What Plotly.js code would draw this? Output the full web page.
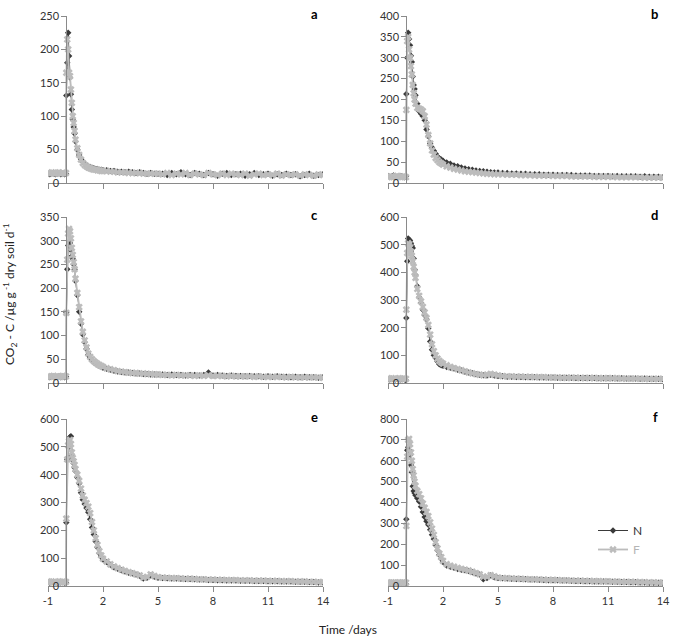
<!DOCTYPE html>
<html>
<head>
<meta charset="utf-8">
<script src="https://cdn.plot.ly/plotly-3.0.1.min.js"></script>
<style>html,body{margin:0;padding:0;background:#fff;}#chart{width:685px;height:642px;}</style>
</head>
<body>
<div id="chart"></div>
<script>
// Time (days) shared by all panels
const days = [-1,-0.9,-0.8,-0.7,-0.6,-0.5,-0.4,-0.3,-0.2,-0.1,-0.02,
  0,0.05,0.1,0.15,0.2,0.25,0.3,0.35,0.4,0.45,0.5,0.6,0.7,0.8,0.9,1,1.1,1.2,1.3,1.4,1.5,1.6,1.7,1.8,1.9,2,
  2.2,2.4,2.6,2.8,3,3.2,3.4,3.6,3.8,4,4.2,4.4,4.6,4.8,5,
  5.25,5.5,5.75,6,6.25,6.5,6.75,7,7.25,7.5,7.75,8,8.25,8.5,8.75,9,9.25,9.5,9.75,10,10.25,10.5,10.75,11,11.25,11.5,11.75,12,12.25,12.5,12.75,13,13.25,13.5,13.75,14];

const aN = [14,13,15,14,13,14,15,13,14,13,14,
  131,180,225,190,158,133,110,95,84,74,62,50,42,36,32,29,27,25,24,23,22,21,21,20,20,19,
  19,18,18,17,17,16,17,16,15,16,15,14,15,14,14,
  14,12,15,13,16,13,12,15,14,12,15,13,11,14,15,12,13,14,11,13,15,12,13,14,11,13,12,14,12,13,10,12,14,11,12,13];
const aF = [15,14,16,15,14,15,16,14,15,14,15,
  165,215,200,165,160,140,120,100,90,78,65,52,42,35,30,27,25,23,22,21,20,20,19,19,18,18,
  18,17,17,16,16,16,15,15,15,15,14,14,14,14,14,
  13,15,12,14,13,15,12,14,13,12,15,13,12,14,12,14,13,12,14,11,13,14,12,13,12,14,11,13,12,13,11,13,12,11,13,12];

const bN = [17,15,16,18,15,14,16,17,15,14,16,
  213,300,360,345,330,305,290,255,235,225,210,190,172,166,160,150,128,112,95,85,77,70,63,59,56,53,
  49,46,42,40,37,35,33,32,30,29,28,27,26,25,25,
  24,24,23,23,22,22,21,21,21,20,20,20,19,19,19,19,18,18,18,18,17,17,17,17,16,17,16,16,16,16,15,16,15,15,15,14];
const bF = [14,16,15,14,15,17,15,14,15,16,14,
  175,340,350,320,300,280,260,235,215,200,190,180,178,176,172,160,140,115,95,78,68,60,55,50,47,44,
  40,37,34,32,30,28,27,26,25,24,23,22,22,21,21,
  21,20,20,20,19,19,19,18,18,18,18,17,17,17,17,16,16,16,16,16,15,15,15,15,15,14,14,14,14,14,14,13,13,13,13,13];

const cN = [13,12,14,13,12,13,14,12,13,12,13,
  148,240,290,298,295,280,268,262,250,240,215,185,150,125,102,86,72,60,53,48,44,41,38,36,34,32,
  30,28,26,24,23,22,22,21,20,20,19,19,18,18,18,
  18,17,18,17,17,16,17,17,16,17,22,16,17,16,15,16,15,15,14,15,14,14,13,14,13,14,13,13,12,13,12,13,12,12,11,12];
const cF = [14,13,14,15,13,14,13,14,15,13,14,
  148,260,315,325,320,305,285,270,255,240,220,190,160,130,108,90,75,62,55,50,46,43,40,38,36,34,
  31,29,27,25,24,23,22,21,21,20,20,19,19,18,18,
  17,17,16,17,16,16,16,15,16,15,16,15,15,15,14,15,14,14,14,14,13,14,13,13,13,13,13,12,13,12,12,12,12,12,12,11];

const dN = [14,13,15,14,13,15,14,13,14,13,10,
  235,440,522,518,515,505,495,488,450,410,390,350,310,290,265,245,230,198,150,120,100,90,78,68,64,62,
  58,55,52,48,45,41,38,35,32,30,28,27,30,27,25,
  24,23,23,22,22,21,21,21,20,20,20,20,19,19,19,19,18,18,18,18,18,17,17,17,17,16,17,16,16,16,15,16,15,15,15,14];
const dF = [16,15,17,15,16,15,17,16,15,16,15,
  265,470,505,500,490,475,460,440,420,400,380,340,315,295,275,255,235,210,175,140,115,100,88,80,74,70,
  64,58,54,50,46,42,38,35,32,30,28,30,33,30,27,
  25,24,24,23,23,22,22,21,21,21,20,20,20,19,19,19,19,18,18,18,18,17,17,17,17,17,16,16,16,16,16,15,15,15,15,15];

const eN = [14,12,15,13,14,12,15,13,14,12,13,
  228,455,460,500,535,538,470,452,440,425,412,390,368,335,310,295,280,265,240,210,185,160,138,118,105,95,
  86,76,67,62,57,52,48,45,41,37,27,30,38,33,30,
  29,28,27,27,26,25,25,24,23,23,22,22,21,21,20,20,20,19,19,19,18,18,18,17,17,17,16,16,16,15,15,15,14,14,13,13];
const eF = [15,14,16,14,15,13,16,14,15,14,15,
  242,455,505,520,525,510,480,460,448,435,420,400,378,350,325,310,298,285,262,230,200,172,148,125,110,98,
  88,78,70,64,59,54,50,46,42,38,30,33,42,36,32,
  30,29,28,28,27,26,26,25,24,24,23,23,22,22,21,21,21,20,20,20,19,19,19,18,18,18,17,17,17,16,16,16,15,15,14,14];

const fN = [15,13,16,14,15,13,16,14,15,13,10,
  320,650,665,650,628,580,545,478,455,445,435,420,405,380,355,330,310,294,270,245,225,195,170,150,130,115,
  98,92,87,82,78,76,72,66,60,55,32,38,50,42,38,
  37,36,35,34,33,32,31,31,30,29,28,28,27,26,26,25,24,24,23,23,22,22,21,21,20,20,19,19,18,18,17,17,16,16,15,15];
const fF = [16,15,17,15,16,14,17,15,16,15,16,
  288,620,700,705,680,640,600,560,530,500,480,455,440,420,395,375,355,335,305,275,245,210,180,155,138,120,
  105,97,92,87,82,78,74,68,62,56,45,44,52,46,40,
  38,37,36,35,34,33,32,32,31,30,29,29,28,27,27,26,25,25,24,24,23,23,22,22,21,21,20,20,19,19,18,18,17,17,16,16];

const panelLetters = ['a','b','c','d','e','f'];
const seriesN = [aN,bN,cN,dN,eN,fN];
const seriesF = [aF,bF,cF,dF,eF,fF];
const yMax = [250,400,350,600,600,800];
const yStep = [50,50,50,100,100,100];
const xTicks = [-1,2,5,8,11,14];
const seriesNames = ['N','F'];

// layout geometry (pixels -> paper)
const W = 685, H = 642;
const colDom = [[48/W, 323/W],[388/W, 663/W]];
const rowDom = [[1-183/H, 1-16/H],[1-383/H, 1-217/H],[1-586/H, 1-419/H]];
const FONT = 'Lato, "Liberation Sans", sans-serif';
const AXC = '#8a8a8a';
const NCOL = '#3a3a3a', FCOL = '#bcbcbc';

const traces = [];
const layout = {
  width: W, height: H,
  margin: {l:0, r:0, t:0, b:0},
  paper_bgcolor: '#fff', plot_bgcolor: 'rgba(0,0,0,0)',
  font: {family: FONT, size: 11, color: '#333'},
  showlegend: true,
  legend: {x: 593/W, y: 1-516/H, xanchor:'left', yanchor:'top', bgcolor:'rgba(0,0,0,0)',
           font:{family: FONT, size: 12, color:'#333'}, itemwidth: 30, tracegroupgap: 0},
  annotations: []
};

for (let i = 0; i < 6; i++) {
  const n = i + 1;
  const col = i % 2, row = Math.floor(i / 2);
  const xs = n === 1 ? '' : String(n);
  const xd = colDom[col];
  traces.push({
    x: days, y: seriesN[i], xaxis: 'x' + xs, yaxis: 'y' + xs,
    type: 'scatter', mode: 'lines+markers', name: seriesNames[0],
    line: {color: NCOL, width: 1},
    marker: {symbol: 'diamond', size: 5, color: NCOL},
    showlegend: i === 5, legendrank: 1
  });
  traces.push({
    x: days, y: seriesF[i], xaxis: 'x' + xs, yaxis: 'y' + xs,
    type: 'scatter', mode: 'lines+markers',
    name: '<span style="color:#b5b5b5">' + seriesNames[1] + '</span>',
    line: {color: FCOL, width: 1.8},
    marker: {symbol: 'x', size: 6.5, color: FCOL},
    showlegend: i === 5, legendrank: 2
  });
  layout['xaxis' + xs] = {
    domain: xd, range: [-1, 14], anchor: 'y' + xs,
    tickmode: 'array', tickvals: xTicks, ticktext: xTicks.map(String),
    showticklabels: row === 2, ticks: 'outside', ticklen: 5, tickcolor: AXC, tickwidth: 1,
    showline: true, linecolor: AXC, linewidth: 1, showgrid: false, zeroline: false,
    tickfont: {family: FONT, size: 11, color: '#333'}, fixedrange: true
  };
  layout['yaxis' + xs] = {
    domain: rowDom[row], range: [0, yMax[i]], dtick: yStep[i], tick0: 0,
    anchor: 'free', position: xd[0] + (xd[1] - xd[0]) / 15, side: 'left',
    ticks: 'outside', ticklen: 5, tickcolor: AXC, tickwidth: 1,
    showline: true, linecolor: AXC, linewidth: 1, showgrid: false, zeroline: false,
    tickfont: {family: FONT, size: 11, color: '#333'}, fixedrange: true
  };
  layout.annotations.push({
    text: '<b>' + panelLetters[i] + '</b>', xref: 'paper', yref: 'paper',
    x: xd[1] - 3/W, y: rowDom[row][1] + 2/H, xanchor: 'right', yanchor: 'middle',
    showarrow: false, font: {family: FONT, size: 13, color: '#000'}
  });
}

layout.annotations.push({
  text: 'CO<sub>2</sub> - C /µg g<sup> -1</sup> dry soil d<sup>-1</sup>',
  xref: 'paper', yref: 'paper', x: 10/W, y: 1-294/H, textangle: -90,
  xanchor: 'center', yanchor: 'middle', showarrow: false,
  font: {family: FONT, size: 12, color: '#222'}
});
layout.annotations.push({
  text: 'Time /days', xref: 'paper', yref: 'paper', x: 348/W, y: 1-629/H,
  xanchor: 'center', yanchor: 'middle', showarrow: false,
  font: {family: FONT, size: 12, color: '#222'}
});

Plotly.newPlot('chart', traces, layout, {staticPlot: true, displayModeBar: false});
</script>
</body>
</html>
